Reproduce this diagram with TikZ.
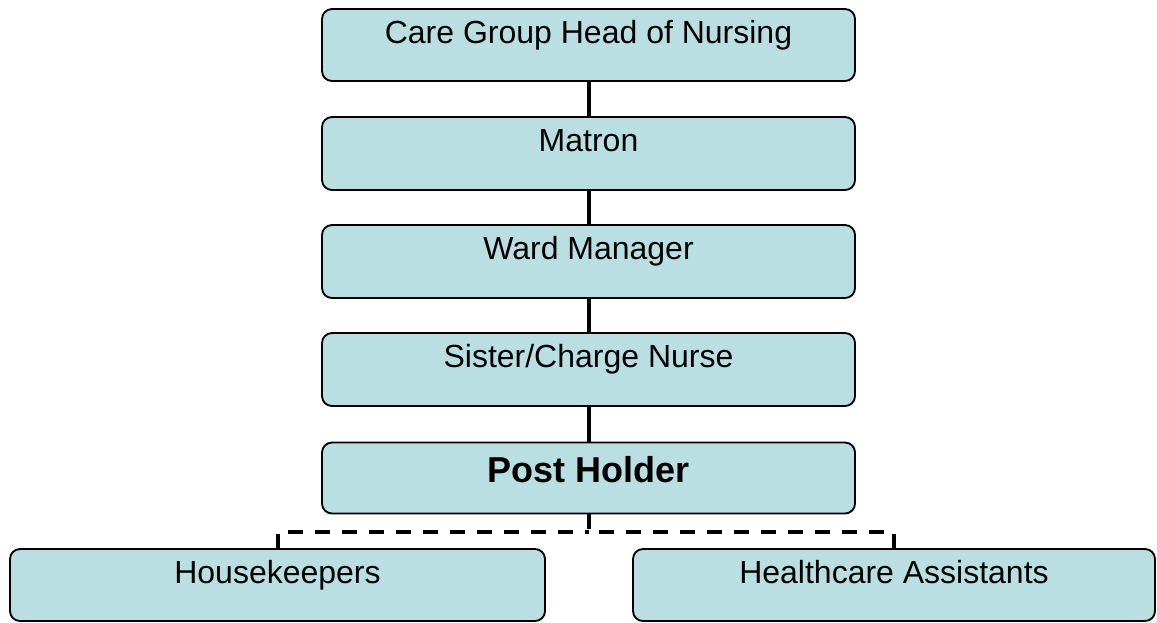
\documentclass[tikz,border=0pt]{standalone}
\usepackage{fontspec}
\setmainfont{Liberation Sans}
\definecolor{boxfill}{RGB}{186,223,227}
\begin{document}
\begin{tikzpicture}[x=0.75pt,y=-0.75pt,
  orgbox/.style={draw=black, line width=1.4pt, fill=boxfill, rounded corners=7.5pt,
    inner sep=0pt, outer sep=0pt, minimum height=54pt},
  lbl/.style={anchor=base, inner sep=0pt, font=\fontsize{24}{28}\selectfont},
  blbl/.style={anchor=base, inner sep=0pt, font=\fontsize{27}{32}\selectfont\bfseries},
  solidlink/.style={line width=3pt},
  dashlink/.style={line width=3pt, dash pattern=on 11.25pt off 9pt}]
\useasboundingbox (0,0) rectangle (1157,622);
% boxes
\node[orgbox, minimum width=399.75pt] (b1) at (588.5,45) {};
\node[orgbox, minimum width=399.75pt, minimum height=54.75pt] (b2) at (588.5,153.5) {};
\node[orgbox, minimum width=399.75pt, minimum height=54.75pt] (b3) at (588.5,261.5) {};
\node[orgbox, minimum width=399.75pt, minimum height=54.75pt] (b4) at (588.5,369.5) {};
\node[orgbox, minimum width=399.75pt, minimum height=53.25pt] (b5) at (588.5,478) {};
\node[orgbox, minimum width=401.25pt] (b6) at (277.5,585) {};
\node[orgbox, minimum width=391.5pt] (b7) at (894,585) {};
% labels
\node[lbl]  (t1) at ([yshift=-25.5pt]b1.north) {Care Group Head of Nursing};
\node[lbl]  (t2) at ([yshift=-25.5pt]b2.north) {Matron};
\node[lbl]  (t3) at ([yshift=-25.5pt]b3.north) {Ward Manager};
\node[lbl]  (t4) at ([yshift=-25.5pt]b4.north) {Sister/Charge Nurse};
\node[blbl] (t5) at ([yshift=-30pt]b5.north) {Post Holder};
\node[lbl]  (t6) at ([yshift=-25.5pt]b6.north) {Housekeepers};
\node[lbl]  (t7) at ([yshift=-25.5pt]b7.north) {Healthcare Assistants};
% connectors
\draw[solidlink] (b1.south) -- (b2.north);
\draw[solidlink] (b2.south) -- (b3.north);
\draw[solidlink] (b3.south) -- (b4.north);
\draw[solidlink] (b4.south) -- (b5.north);
\coordinate (split) at (588.5,532);
\draw[dashlink] (b5.south) -- (split);
\draw[dashlink] (b6.north) |- (split);
\draw[dashlink] (b7.north) |- (split);
\end{tikzpicture}
\end{document}
